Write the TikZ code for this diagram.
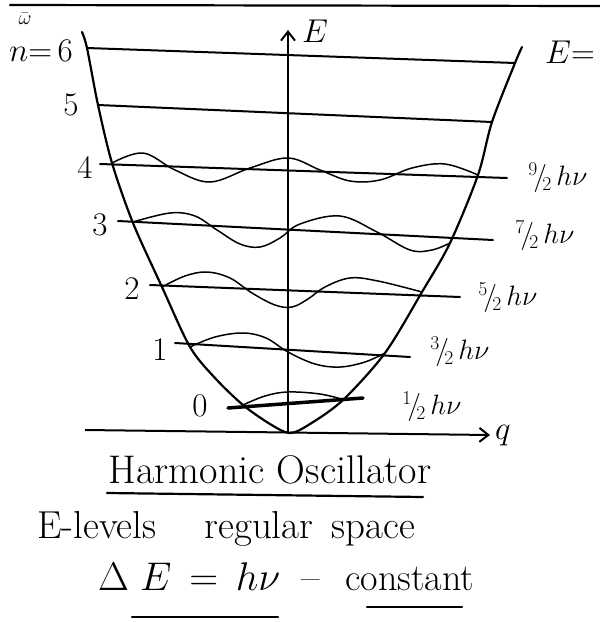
\RequirePackage{fix-cm}
\documentclass[tikz,border=0pt]{standalone}
\usetikzlibrary{arrows.meta}
\tikzset{
  ink/.style={line width=2.2pt, line cap=round, line join=round},
  lvl/.style={line width=2pt, line cap=round},
  wave/.style={line width=1.5pt, line cap=round, line join=round},
  axis/.style={line width=2pt, -{Straight Barb[length=9pt,width=14pt,line width=2pt]}},
  lab/.style={font=\fontsize{33}{35}\selectfont, inner sep=0pt},
  elab/.style={font=\fontsize{28}{30}\selectfont, inner sep=0pt},
  txt/.style={inner sep=0pt},
}
\begin{document}
\begin{tikzpicture}[x=1pt,y=-1pt]
\useasboundingbox (0,0) rectangle (600,622);
% top border line
\coordinate (tl) at (10,5); \coordinate (tr) at (600,6);
\draw[ink] (tl) -- (tr);
% axes
\coordinate (O) at (288,432);
\coordinate (Etop) at (288,30);
\coordinate (qL) at (85,430);
\coordinate (qR) at (490,435);
\draw[axis] (O) -- (Etop);
\draw[axis] (qL) -- (qR);
\node[lab] (Elab) at (315,31) {$E$};
\node[lab] (qlab) at (503,436) {$q$};
\node[lab, anchor=west] (Eeq) at (545,52) {$E{=}$};
\node[font=\fontsize{20}{22}\selectfont, inner sep=0pt] (omega) at (25,19) {$\bar{\omega}$};
% potential
\draw[ink] plot[smooth, tension=0.5] coordinates {(82,32) (87,48) (98,105) (112,163) (133,223) (162,287) (190,347) (215,378) (243,405) (270,424) (290,433) (310,424) (343,400) (385,353) (422,292) (450,243) (478,175) (492,122) (515,63) (522,47)};
% levels
\coordinate (l6a) at (87,48);  \coordinate (l6b) at (515,63);
\coordinate (l5a) at (98,105); \coordinate (l5b) at (492,122);
\coordinate (l4a) at (100,164);\coordinate (l4b) at (507,178);
\coordinate (l3a) at (118,221);\coordinate (l3b) at (493,240);
\coordinate (l2a) at (150,285);\coordinate (l2b) at (460,297);
\coordinate (l1a) at (175,343);\coordinate (l1b) at (410,357);
\coordinate (l0a) at (228,408);\coordinate (l0b) at (363,398);
\foreach \n in {6,5,4,3,2,1} {\draw[lvl] (l\n a) -- (l\n b);}
\draw[line width=3.5pt, line cap=round] (l0a) -- (l0b);
% wavefunctions
\draw[wave] plot[smooth, tension=0.6] coordinates {(112,163) (143,153) (175,170) (210,182) (250,168) (288,158) (320,170) (350,181) (380,180) (412,168) (445,164) (478,175)};
\draw[wave] plot[smooth, tension=0.6] coordinates {(133,222) (170,213) (195,216) (217,230) (240,244) (260,247) (280,238) (300,224) (340,216) (377,232) (410,250) (432,250) (450,243)};
\draw[wave] plot[smooth, tension=0.6] coordinates {(162,287) (185,276) (207,272) (230,278) (252,293) (275,305) (292,307) (308,299) (325,287) (350,278) (378,281) (422,292)};
\draw[wave] plot[smooth, tension=0.6] coordinates {(190,347) (215,337) (243,333) (266,338) (288,352) (315,364) (340,367) (365,362) (385,353)};
\draw[wave] plot[smooth, tension=0.6] coordinates {(243,405) (265,396) (288,392) (320,394) (345,400)};
% quantum number labels
\node[lab] (n6) at (41,51) {$n{=}\,6$};
\node[lab] (n5) at (71,105) {$5$};
\node[lab] (n4) at (85,168) {$4$};
\node[lab] (n3) at (100,225) {$3$};
\node[lab] (n2) at (132,289) {$2$};
\node[lab] (n1) at (160,350) {$1$};
\node[lab] (n0) at (200,406) {$0$};
% energy labels
\node[elab] (e9) at (558,178) {${}^{9}\!/\!_{2}\,h\nu$};
\node[elab] (e7) at (545,236) {${}^{7}\!/\!_{2}\,h\nu$};
\node[elab] (e5) at (508,298) {${}^{5}\!/\!_{2}\,h\nu$};
\node[elab] (e3) at (460,352) {${}^{3}\!/\!_{2}\,h\nu$};
\node[elab] (e1) at (432,407) {${}^{1}\!/\!_{2}\,h\nu$};
% bottom text
\node[txt, font=\fontsize{40}{44}\selectfont] (title) at (270,470) {Harmonic Oscillator};
\draw[ink] (107,493) -- (423,497);
\node[txt, font=\fontsize{39}{42}\selectfont, anchor=base west] (sub) at (37,538) {E-levels\hspace{48pt}regular\hspace{18pt}space};
\node[txt, font=\fontsize{40}{44}\selectfont, anchor=base west] (eq1) at (98,590) {$\Delta\;E\,=\,h\nu$};
\node[txt, font=\fontsize{40}{44}\selectfont] (dash) at (311,585) {--};
\node[txt, font=\fontsize{38}{42}\selectfont, anchor=base west] (const) at (345,590) {constant};
\draw[ink] (132,617) -- (278,617);
\draw[ink] (367,607) -- (462,607);
\end{tikzpicture}
\end{document}
